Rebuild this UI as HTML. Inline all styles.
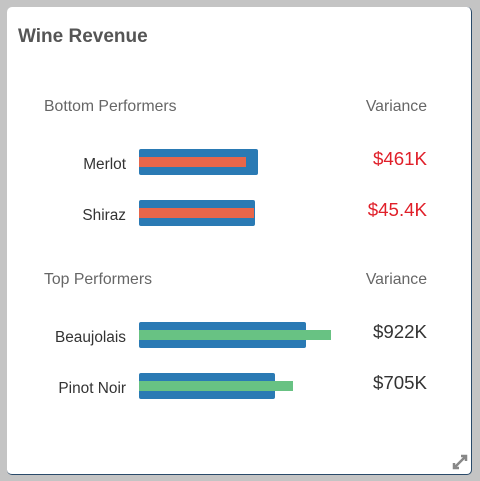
<!DOCTYPE html>
<html><head><style>
body{margin:0;width:480px;height:481px;background:#c4c4c4;font-family:"Liberation Sans",sans-serif;overflow:hidden;position:relative}
.card{position:absolute;left:7px;top:7px;width:465px;height:468px;background:#fff;border-radius:5px;border-right:1px solid #2a4a6a;border-bottom:1px solid #2a4a6a;box-sizing:border-box}
.t{position:absolute;white-space:nowrap}
</style></head><body>
<div class="card"></div>
<div class="t" style="left:18px;top:26px;font-size:19px;font-weight:bold;color:#555">Wine Revenue</div>
<svg id="chart" width="480" height="481" style="position:absolute;left:0;top:0"></svg>
<svg style="position:absolute;left:452px;top:454px" width="16" height="16"><path d="M2 14 L14 2 M9 2 L14 2 L14 7 M2 9 L2 14 L7 14" stroke="#888" stroke-width="2.5" fill="none"/></svg>
<script>
const categories=["Merlot","Shiraz","Beaujolais","Pinot Noir"];
const actualValues=[595,580,835,680];
const targetValues=[535,575,960,770];
const varianceLabels=["$461K","$45.4K","$922K","$705K"];
const groups=["bottom","bottom","top","top"];
const svg=document.getElementById('chart');
const NS="http://www.w3.org/2000/svg";
const x0=139,pxPer=200/1000;
function xs(v){return v*pxPer;}
const rowTop=[149,200,322,373];
function mk(tag,attrs){const e=document.createElementNS(NS,tag);for(const k in attrs)e.setAttribute(k,attrs[k]);svg.appendChild(e);return e;}
function txt(s,x,y,size,color,anchor){const e=mk('text',{x:x,y:y,'font-size':size,fill:color,'text-anchor':anchor,'font-family':'Liberation Sans, sans-serif'});e.textContent=s;return e;}
let h;
h=txt("Bottom Performers",44,111,15.8,"#666","start");


h=txt("Variance",427,111,15.8,"#666","end");


h=txt("Top Performers",44,284,15.8,"#666","start");


h=txt("Variance",427,284,15.8,"#666","end");


categories.forEach((c,i)=>{
  const y=rowTop[i];
  const b=mk('rect',{x:x0,y:y,width:xs(actualValues[i]),height:26,rx:2,fill:'#2a7ab4'});
  
  
  const col=groups[i]==="bottom"?'#e8664a':'#68c283';
  const t=mk('rect',{x:x0,y:y+8,width:xs(targetValues[i]),height:10,fill:col});
  
  
  const l=txt(c,126,y+20,15.4,"#333","end");
  
  
  const v=txt(varianceLabels[i],427,y+16,18.7,groups[i]==="bottom"?"#e0202a":"#333","end");
  
  
});
</script>
</body></html>
